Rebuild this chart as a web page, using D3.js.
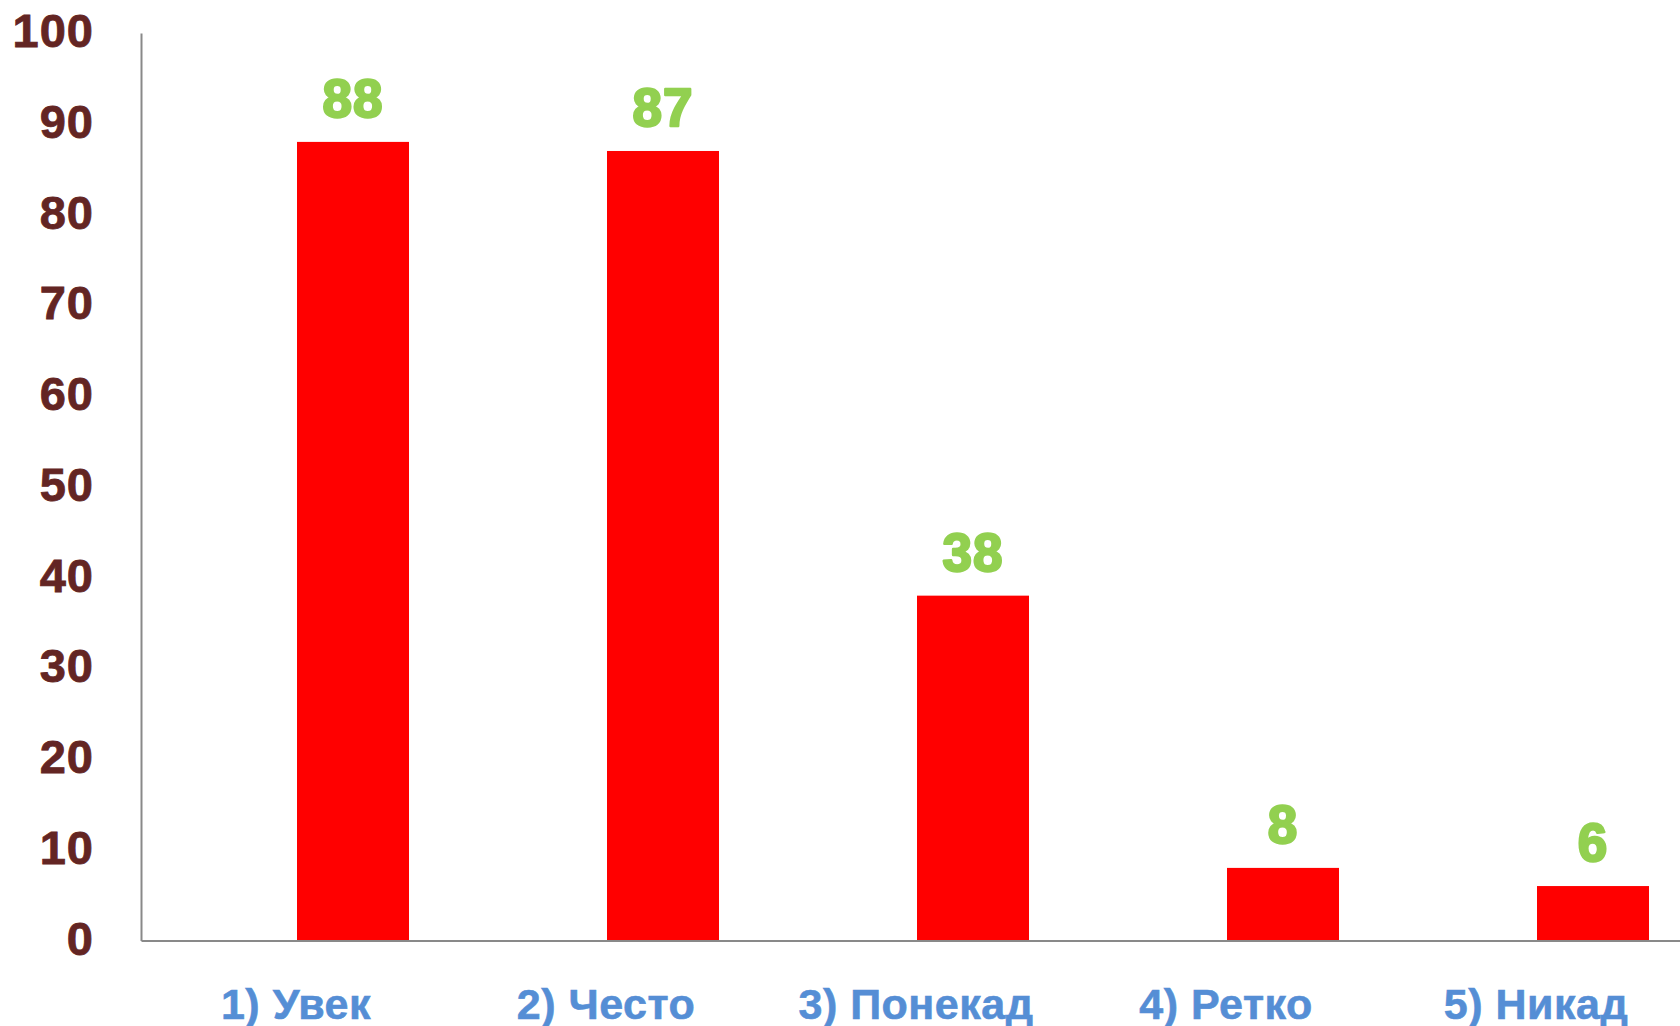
<!DOCTYPE html>
<html>
<head>
<meta charset="utf-8">
<script src="https://cdn.jsdelivr.net/npm/d3@7"></script>
<style>
  html, body { margin: 0; padding: 0; background: #ffffff; }
  svg { display: block; }
</style>
</head>
<body>
<svg id="chart" width="1680" height="1026"></svg>
<script>
const categories = ["1) Увек", "2) Често", "3) Понекад", "4) Ретко", "5) Никад"];
const values = [88, 87, 38, 8, 6];
const yTicks = [0, 10, 20, 30, 40, 50, 60, 70, 80, 90, 100];

const svg = d3.select("#chart");
const font = "'Liberation Sans', Arial, sans-serif";

const x = d3.scaleBand().domain(categories).range([141, 1691]).paddingInner(0).paddingOuter(0);
const y = d3.scaleLinear().domain([0, 100]).range([940.5, 33]);
const barW = 112;

// bars
svg.append("g").selectAll("rect")
  .data(values)
  .join("rect")
  .attr("x", (d, i) => x(categories[i]) + x.bandwidth() / 2 + 1)
  .attr("y", d => y(d))
  .attr("width", barW)
  .attr("height", d => y(0) - y(d))
  .attr("fill", "#ff0000");

// data labels
svg.append("g").selectAll("text")
  .data(values)
  .join("text")
  .attr("x", (d, i) => x(categories[i]) + x.bandwidth() / 2 + 1 + barW / 2)
  .attr("y", d => y(d) - 25)
  .attr("text-anchor", "middle")
  .attr("font-family", font)
  .attr("font-weight", "bold")
  .attr("font-size", 53)
  .attr("letter-spacing", 1)
  .attr("fill", "#92d050")
  .attr("stroke", "#92d050")
  .attr("stroke-width", 2.4)
  .attr("stroke-linejoin", "round")
  .text(d => d);

// y axis
const yAxis = d3.axisLeft(y).tickValues(yTicks).tickSize(0).tickPadding(47);
const gy = svg.append("g").attr("transform", "translate(141,0)").call(yAxis);
gy.select(".domain").attr("stroke", "#898989").attr("stroke-width", 2);
gy.selectAll("text")
  .attr("font-family", font)
  .attr("font-weight", "bold")
  .attr("font-size", 47)
  .attr("letter-spacing", 1)
  .attr("fill", "#632523")
  .attr("stroke", "#632523")
  .attr("stroke-width", 0.8)
  .attr("dy", "0.29em");

// x axis
const xAxis = d3.axisBottom(x).tickSize(0).tickPadding(0);
const gx = svg.append("g").attr("transform", "translate(0,940.5)").call(xAxis);
gx.select(".domain").attr("stroke", "#898989").attr("stroke-width", 2);
gx.selectAll("text")
  .attr("font-family", font)
  .attr("font-weight", "bold")
  .attr("font-size", 43)
  .attr("letter-spacing", 0.5)
  .attr("fill", "#558ed5")
  .attr("stroke", "#558ed5")
  .attr("stroke-width", 0.6)
  .attr("y", 78)
  .attr("dy", 0);
</script>
</body>
</html>
